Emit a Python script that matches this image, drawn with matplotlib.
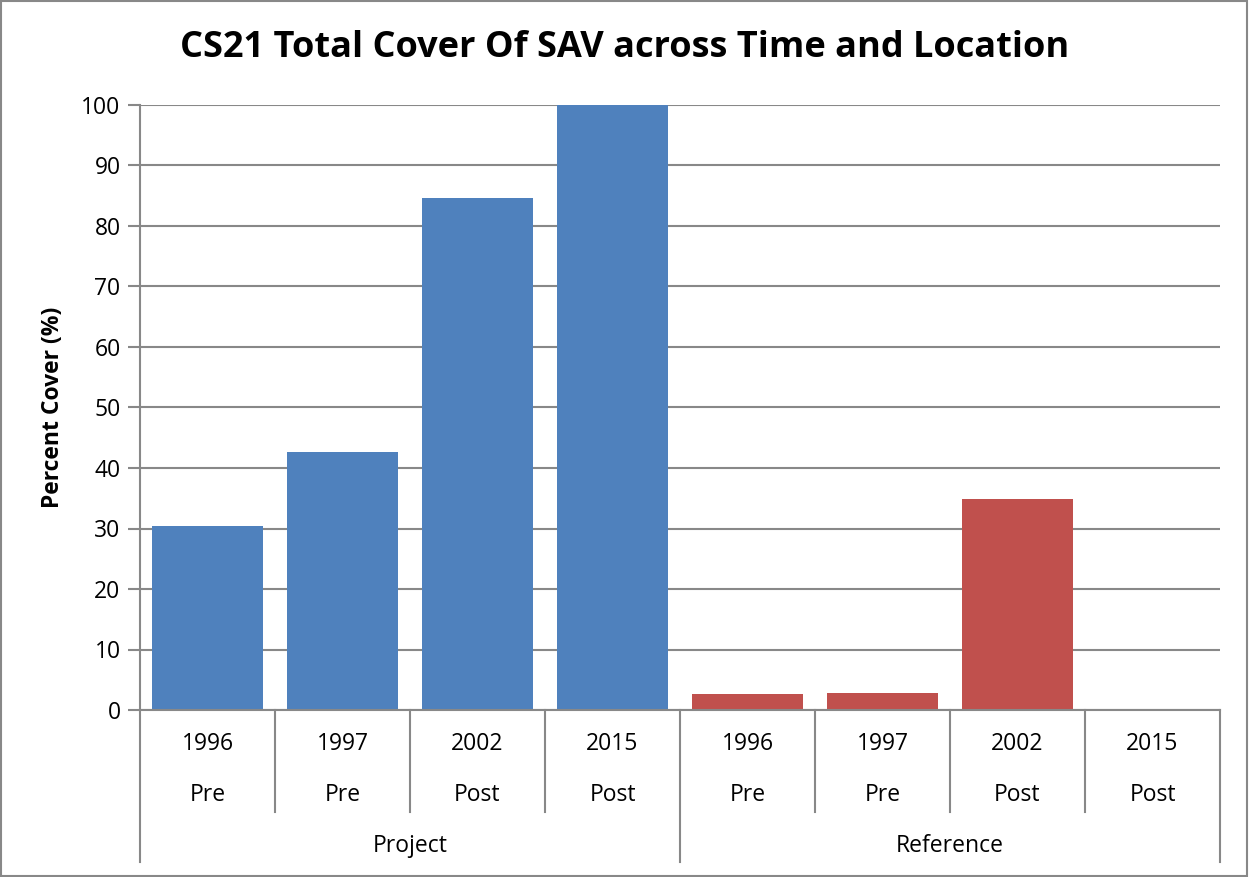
import matplotlib.pyplot as plt
from matplotlib.patches import Rectangle

groups = ["Project", "Reference"]
years = ["1996", "1997", "2002", "2015"]
periods = ["Pre", "Pre", "Post", "Post"]
project_cover = [30.4, 42.6, 84.7, 100.0]
reference_cover = [2.6, 2.8, 34.9, 0.0]

blue = "#4F81BD"
red = "#C0504D"
grey = "#888888"

plt.rcParams["font.family"] = ["Open Sans", "DejaVu Sans"]

fig = plt.figure(figsize=(12.49, 8.77), dpi=100)
ax = fig.add_axes([140 / 1249, 1 - 710 / 877, 1080 / 1249, 605 / 877])

n = len(years)
xs_proj = list(range(n))
xs_ref = [i + n for i in range(n)]
ax.bar(xs_proj, project_cover, width=0.815, color=blue)
ax.bar(xs_ref, reference_cover, width=0.815, color=red)

ax.set_xlim(-0.5, 2 * n - 0.5)
ax.set_ylim(0, 100)
ax.set_yticks(range(0, 101, 10))
ax.tick_params(axis="y", length=9, width=1.5, color=grey, labelsize=16.5, pad=5)
ax.tick_params(axis="x", bottom=False, labelbottom=False)
ax.yaxis.grid(True, color=grey, linewidth=1.5)
ax.set_axisbelow(True)
for side in ["top", "right"]:
    ax.spines[side].set_visible(False)
for side in ["left", "bottom"]:
    ax.spines[side].set_color(grey)
    ax.spines[side].set_linewidth(1.5)

ax.set_ylabel("Percent Cover (%)", fontsize=16.5, fontweight="bold", labelpad=12)
fig.text(625 / 1249, 1 - 48 / 877, "CS21 Total Cover Of SAV across Time and Location",
         ha="center", va="center", fontsize=26, fontweight="bold")

# multi-level category axis below the plot
trans = ax.get_xaxis_transform()
labels_year = years + years
labels_period = periods + periods
for i in range(2 * n):
    ax.text(i, -0.056, labels_year[i], transform=trans, ha="center", va="center", fontsize=16.5)
    ax.text(i, -0.1405, labels_period[i], transform=trans, ha="center", va="center", fontsize=16.5)
for i in range(2 * n + 1):
    bottom = -0.251 if i % n == 0 else -0.1686
    ax.plot([i - 0.5, i - 0.5], [0, bottom], transform=trans, color=grey,
            linewidth=1.5, clip_on=False)
for g, name in enumerate(groups):
    ax.text(g * n + (n - 1) / 2, -0.2248, name, transform=trans, ha="center",
            va="center", fontsize=16.5)

fig.patches.append(Rectangle((0.0005, 0.001), 0.998, 0.998, transform=fig.transFigure,
                             fill=False, edgecolor=grey, linewidth=1.5))

fig.savefig("out.png", dpi=100)
